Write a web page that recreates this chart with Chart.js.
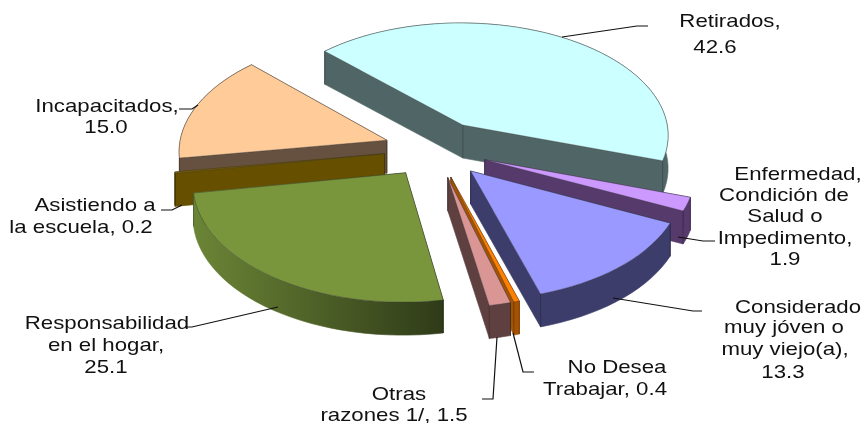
<!DOCTYPE html>
<html>
<head>
<meta charset="utf-8">
<style>
  html, body { margin: 0; background: #fff; }
  canvas { display: block; }
</style>
<script src="https://cdn.jsdelivr.net/npm/chart.js@4"></script>
</head>
<body>
<canvas id="chart" width="866" height="423"></canvas>
<script>
const categories = [
  "Retirados",
  "Enfermedad, Condición de Salud o Impedimento",
  "Considerado muy jóven o muy viejo(a)",
  "No Desea Trabajar",
  "Otras razones 1/",
  "Responsabilidad en el hogar",
  "Asistiendo a la escuela",
  "Incapacitados",
];
const values = [42.6, 1.9, 13.3, 0.4, 1.5, 25.1, 0.2, 15.0];

const topColors = ["#ccffff", "#cc99ff", "#9999ff", "#ff8000", "#d99694", "#7a963c", "#7f6000", "#ffcc99"];
const wallColors = ["#506666", "#553a6b", "#3d3d6b", "#a65300", "#5f4040", "#6b8536", "#665000", "#665040"];
const wallEndColors = [null, null, null, null, null, "#2f3b18", null, null];

// text of the labels, line by line: [text, center x, baseline y]
const labelLines = [
  [["Retirados,", 730, 27], ["42.6", 715, 53]],
  [["Enfermedad,", 798, 180], ["Condición de", 784, 201], ["Salud o", 785, 222], ["Impedimento,", 785, 244], ["1.9", 785, 265]],
  [["Considerado", 798, 313], ["muy jóven o", 784, 333], ["muy viejo(a),", 785, 355], ["13.3", 783, 378]],
  [["No Desea", 617, 373], ["Trabajar, 0.4", 605, 395]],
  [["Otras", 399, 400], ["razones 1/, 1.5", 394, 421]],
  [["Responsabilidad", 107, 329], ["en el hogar,", 106, 351], ["25.1", 106, 373]],
  [["Asistiendo a", 95, 211], ["la escuela, 0.2", 81, 233]],
  [["Incapacitados,", 107, 112], ["15.0", 106, 133]],
];
const leaderLines = [
  [[562, 37], [637, 26], [648, 26]],
  [[678, 237], [703, 241], [715, 241]],
  [[613, 298], [693, 311], [702, 311]],
  [[513, 333], [523, 372], [534, 372]],
  [[497, 337], [493, 399], [482, 399]],
  [[278, 307], [192, 327], [185, 327]],
  [[182, 205], [172, 210], [161, 210]],
  [[198, 105], [192, 109], [179, 109]],
];

const squash = 0.55;
const perspective = 0.0004;
const depth = 33;
const explode = 52;
const textStretch = 1.17;

// tilted plane of the pie -> screen
function project(arc, x, y) {
  const w = 1 - perspective * y;
  return [arc.x + x / w, arc.y + (squash * y) / w];
}

function outline(arc) {
  const mid = (arc.startAngle + arc.endAngle) / 2;
  const ox = Math.cos(mid) * explode;
  const oy = Math.sin(mid) * explode;
  const pts = [project(arc, ox, oy)];
  const steps = Math.max(2, Math.ceil((arc.endAngle - arc.startAngle) / 0.05));
  for (let s = 0; s <= steps; s++) {
    const a = arc.startAngle + ((arc.endAngle - arc.startAngle) * s) / steps;
    pts.push(project(arc, ox + arc.outerRadius * Math.cos(a), oy + arc.outerRadius * Math.sin(a)));
  }
  return pts;
}

// one filled band, from a run of top points down to the same run lowered by depth
function fillBand(ctx, run) {
  ctx.beginPath();
  run.forEach((p, n) => (n ? ctx.lineTo(p[0], p[1]) : ctx.moveTo(p[0], p[1])));
  run.slice().reverse().forEach((p) => ctx.lineTo(p[0], p[1] + depth));
  ctx.closePath();
  ctx.fill();
  ctx.stroke();
}

function drawWall(ctx, pts, i) {
  let fill = wallColors[i];
  if (wallEndColors[i]) {
    const xs = pts.map((p) => p[0]);
    fill = ctx.createLinearGradient(Math.min(...xs), 0, Math.max(...xs), 0);
    fill.addColorStop(0, wallColors[i]);
    fill.addColorStop(1, wallEndColors[i]);
  }
  ctx.fillStyle = fill;
  ctx.strokeStyle = fill;
  ctx.lineWidth = 0.6;
  const apex = pts[0];
  const rim = pts.slice(1);
  fillBand(ctx, [apex, rim[0]]);
  fillBand(ctx, [rim[rim.length - 1], apex]);
  fillBand(ctx, rim);
  // corners of the wall
  ctx.strokeStyle = "rgba(0,0,0,0.3)";
  ctx.lineWidth = 1;
  [apex, rim[0], rim[rim.length - 1]].forEach((c) => {
    ctx.beginPath();
    ctx.moveTo(c[0], c[1]);
    ctx.lineTo(c[0], c[1] + depth);
    ctx.stroke();
  });
}

function drawTop(ctx, pts, i) {
  ctx.beginPath();
  pts.forEach((p, n) => (n ? ctx.lineTo(p[0], p[1]) : ctx.moveTo(p[0], p[1])));
  ctx.closePath();
  ctx.fillStyle = topColors[i];
  ctx.fill();
  ctx.strokeStyle = "rgba(50,50,50,0.55)";
  ctx.lineWidth = 0.7;
  ctx.stroke();
}

const pie3d = {
  id: "pie3d",
  beforeDatasetsDraw(chart) {
    const ctx = chart.ctx;
    const arcs = chart.getDatasetMeta(0).data;
    // back slices first
    const order = arcs.map((a, i) => i).sort((a, b) => {
      const ma = (arcs[a].startAngle + arcs[a].endAngle) / 2;
      const mb = (arcs[b].startAngle + arcs[b].endAngle) / 2;
      return Math.sin(ma) - Math.sin(mb);
    });
    order.forEach((i) => {
      const pts = outline(arcs[i]);
      drawWall(ctx, pts, i);
      drawTop(ctx, pts, i);
    });
    return false;
  },
  afterDraw(chart) {
    const ctx = chart.ctx;
    ctx.strokeStyle = "#111";
    ctx.lineWidth = 1.2;
    leaderLines.forEach((pts) => {
      ctx.beginPath();
      pts.forEach((p, i) => (i ? ctx.lineTo(p[0], p[1]) : ctx.moveTo(p[0], p[1])));
      ctx.stroke();
    });
    ctx.fillStyle = "#111";
    ctx.font = '19px "Liberation Sans", Arial, sans-serif';
    ctx.textAlign = "center";
    ctx.textBaseline = "alphabetic";
    labelLines.forEach((lines) => {
      lines.forEach((line) => {
        ctx.save();
        ctx.translate(line[1], line[2]);
        ctx.scale(textStretch, 1);
        ctx.fillText(line[0], 0, 0);
        ctx.restore();
      });
    });
  },
};

new Chart(document.querySelector("#chart"), {
  type: "pie",
  data: {
    labels: categories,
    datasets: [
      {
        data: values,
        backgroundColor: topColors,
        borderColor: wallColors,
        borderWidth: 0.8,
      },
    ],
  },
  options: {
    responsive: false,
    animation: false,
    rotation: -45,
    radius: 208,
    layout: { padding: { left: 6, bottom: 125 } },
    plugins: {
      legend: { display: false },
      tooltip: { enabled: false },
    },
  },
  plugins: [pie3d],
});
</script>
</body>
</html>
